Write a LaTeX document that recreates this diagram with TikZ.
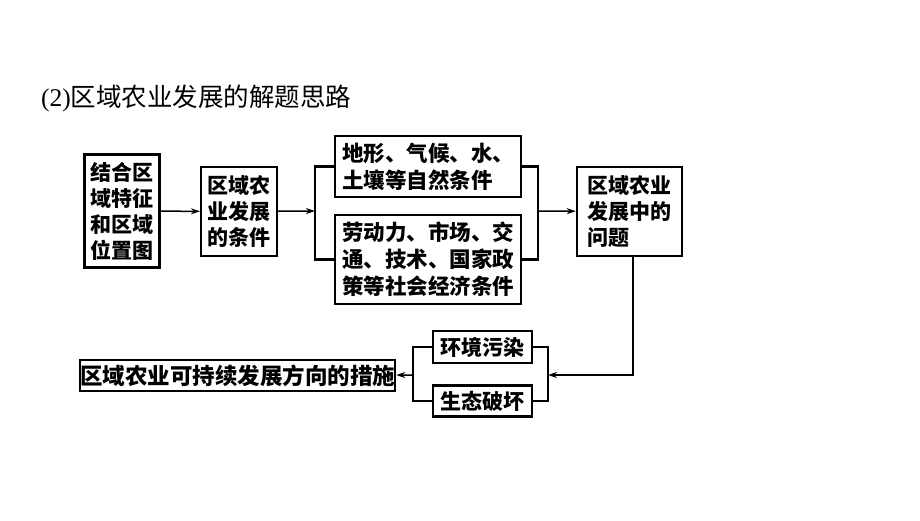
\documentclass[tikz,border=0pt]{standalone}
\usepackage{fontspec}
\setmainfont{Liberation Serif}
\newfontfamily\cjk{Noto Sans CJK SC}
\usetikzlibrary{arrows.meta}

\tikzset{
  box/.style={draw, line width=2.6pt, inner sep=0pt, align=left,
    font=\cjk\bfseries\fontsize{21}{26}\selectfont},
  link/.style={line width=1.5pt, -{Stealth[length=9pt,width=6pt]}},
  brace/.style={line width=2.4pt},
}

\begin{document}
\begin{tikzpicture}[x=1pt, y=-1pt]
   \useasboundingbox[fill=white] (0,0) rectangle (920,521);
   \node[anchor=west, inner sep=0pt, font=\fontsize{25.5}{30}\selectfont] (title) at (41,98)
     {(2){\cjk 区域农业发展的解题思路}};
   % upper row
   \node[box, line width=3pt, minimum width=75, minimum height=113] (atlas) at (122,211)
     {结合区\\域特征\\和区域\\位置图};
   \node[box, line width=2pt, minimum width=76, minimum height=89] (cond) at (239,211.5)
     {区域农\\业发展\\的条件};
   \node[box, minimum width=186, minimum height=61, font=\cjk\bfseries\fontsize{21.5}{27}\selectfont] (nat) at (428,166.5)
     {地形、气候、水、\\土壤等自然条件};
   \node[box, minimum width=186, minimum height=89, font=\cjk\bfseries\fontsize{21.5}{27}\selectfont] (soc) at (428,259.5)
     {劳动力、市场、交\\通、技术、国家政\\策等社会经济条件};
   \node[box, minimum width=105, minimum height=89] (prob) at (629.5,211.5)
     {区域农业\\发展中的\\问题};
   % lower row
   \node[box, minimum width=99, minimum height=32] (pollu) at (482.5,347) {环境污染};
   \node[box, minimum width=99, minimum height=31] (eco) at (482.5,401) {生态破坏};
   \node[box, minimum width=306, minimum height=31, font=\cjk\bfseries\fontsize{22.5}{26}\selectfont] (way) at (237.5,375.5)
     {区域农业可持续发展方向的措施};
   \coordinate (lj) at (315,211);
   \coordinate (rj) at (538,211);
   \coordinate (lj2) at (413,375);
   \coordinate (rj2) at (548,375);

   \draw[link] (atlas) -- (cond);
   \draw[link] (cond) -- (lj);
   \draw[brace] (nat.west) -| (lj) |- (soc.west);
   \draw[brace] (nat.east) -| (rj) |- (soc.east);
   \draw[link] (rj) -- (prob);
   \draw[link] ([xshift=3.5]prob.south) |- (rj2);
   \draw[brace] (pollu.east) -| (rj2) |- (eco.east);
   \draw[brace] (pollu.west) -| (lj2) |- (eco.west);
   \draw[link] (lj2) -- (way);
\end{tikzpicture}
\end{document}
